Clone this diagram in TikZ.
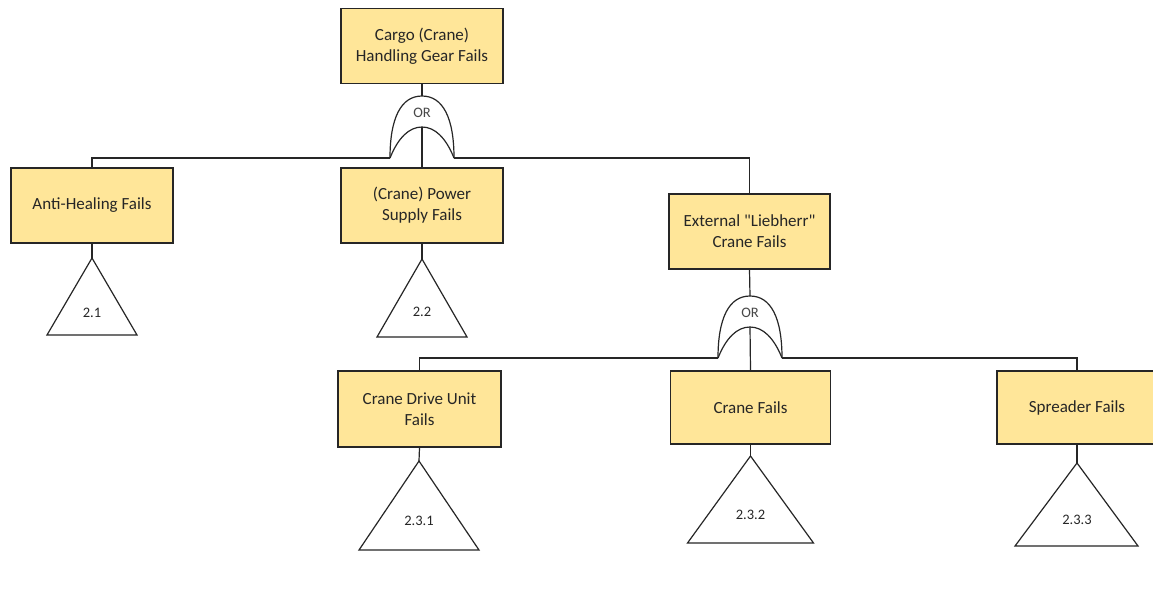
\documentclass[tikz,border=0pt]{standalone}
\usepackage{fontspec}
\setmainfont{Carlito}
\definecolor{boxfill}{HTML}{FFE699}
\definecolor{ink}{HTML}{262626}
\begin{document}
\begin{tikzpicture}[x=1pt,y=1pt,
  wire/.style={draw=ink,line width=1.2pt},
  event/.style={draw=ink,line width=1.3pt,fill=boxfill,minimum width=162pt,minimum height=75pt,
    align=center,inner sep=0pt,text=ink,font=\fontsize{17}{21}\selectfont},
  tri/.style={draw=ink,line width=1.2pt,fill=white,line join=miter},
  trilabel/.style={text=ink,font=\fontsize{14.5}{16}\selectfont,inner sep=0pt},
  orgate/.pic={
    \draw[wire] (-32,0) .. controls (-32,40) and (-21,62) .. (0,62)
                        .. controls (21,62) and (32,40) .. (32,0);
    \draw[wire] (-32,0) .. controls (-24,20) and (-13,31) .. (0,31)
                        .. controls (13,31) and (24,20) .. (32,0);
    \node[text=ink!85,font=\fontsize{14.5}{16}\selectfont,inner sep=0pt] at (0,45) {OR};
    \coordinate (-top) at (0,62);
    \coordinate (-peak) at (0,31);
    \coordinate (-left) at (-32,0);
    \coordinate (-right) at (32,0);
  }]
\clip (0,0) rectangle (1153,-592);
\fill[white] (0,0) rectangle (1153,-592);

% events
\node[event] (top)   at (422,-46)   {Cargo (Crane)\\Handling Gear Fails};
\node[event] (anti)  at (92,-205.5) {Anti-Healing Fails};
\node[event] (power) at (422,-205.5){(Crane) Power\\Supply Fails};
\node[event,minimum width=161pt] (ext) at (749.5,-231.5) {External \textquotedbl Liebherr\textquotedbl\\Crane Fails};
\node[event,minimum width=163pt,minimum height=76pt] (drive) at (419.5,-409) {Crane Drive Unit\\Fails};
\node[event,minimum width=160pt,minimum height=73pt] (crane) at (750.5,-407.5) {Crane Fails};
\node[event,minimum width=160pt,minimum height=73pt] (spread) at (1077,-407.5) {Spreader Fails};

% gates
\pic (g1) at (422,-158) {orgate};
\pic (g2) at (750,-358) {orgate};

% transfer triangles
\coordinate (a1) at (92,-258);
\draw[tri] (a1) -- (137,-335) -- (47,-335) -- cycle;
\node[trilabel] (t1) at (92,-313) {2.1};

\coordinate (a2) at (422,-259);
\draw[tri] (a2) -- (467,-337) -- (377,-337) -- cycle;
\node[trilabel] (t2) at (422,-312) {2.2};

\coordinate (a3) at (419,-461);
\draw[tri] (a3) -- (479,-550) -- (359,-550) -- cycle;
\node[trilabel] (t3) at (419,-521) {2.3.1};

\coordinate (a4) at (750.5,-456);
\draw[tri] (a4) -- (813.5,-543) -- (687.5,-543) -- cycle;
\node[trilabel] (t4) at (750.5,-515) {2.3.2};

\coordinate (a5) at (1077,-463);
\draw[tri] (a5) -- (1138,-546) -- (1015,-546) -- cycle;
\node[trilabel] (t5) at (1077,-520) {2.3.3};

% connectors
\draw[wire] (top.south) -- (g1-top);
\draw[wire] (g1-peak) -- (power.north);
\draw[wire] (g1-left) -| (anti.north);
\draw[wire] (g1-right) -| (ext.north);

\draw[wire] (ext.south) -- (g2-top);
\draw[wire] (g2-peak) -- (crane.north);
\draw[wire] (g2-left) -| (drive.north);
\draw[wire] (g2-right) -| (spread.north);

\draw[wire] (anti.south) -- (a1);
\draw[wire] (power.south) -- (a2);
\draw[wire] (drive.south) -- (a3);
\draw[wire] (crane.south) -- (a4);
\draw[wire] (spread.south) -- (a5);
\end{tikzpicture}
\end{document}
